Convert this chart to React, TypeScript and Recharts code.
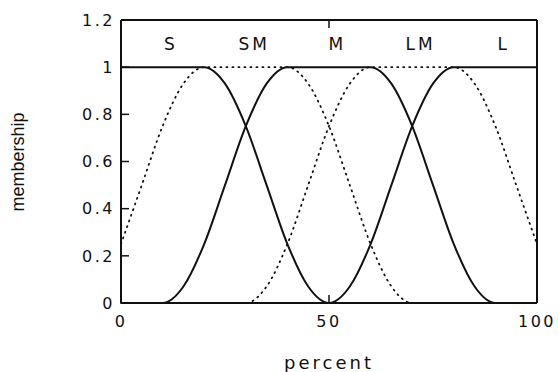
import { ComposedChart, Line, XAxis, YAxis, Scatter } from "recharts";

const percent = [0, 5, 10, 15, 20, 25, 30, 35, 40, 45, 50, 55, 60, 65, 70, 75, 80, 85, 90, 95, 100];
const small = [1, 1, 1, 1, 1, 0.93, 0.75, 0.5, 0.25, 0.07, 0, 0, 0, 0, 0, 0, 0, 0, 0, 0, 0];
const smallMedium = [0.25, 0.5, 0.75, 0.93, 1, 1, 1, 1, 1, 0.93, 0.75, 0.5, 0.25, 0.07, 0, 0, 0, 0, 0, 0, 0];
const medium = [0, 0, 0, 0.07, 0.25, 0.5, 0.75, 0.93, 1, 1, 1, 1, 1, 0.93, 0.75, 0.5, 0.25, 0.07, 0, 0, 0];
const largeMedium = [0, 0, 0, 0, 0, 0, 0, 0.07, 0.25, 0.5, 0.75, 0.93, 1, 1, 1, 1, 1, 0.93, 0.75, 0.5, 0.25];
const large = [0, 0, 0, 0, 0, 0, 0, 0, 0, 0, 0, 0.07, 0.25, 0.5, 0.75, 0.93, 1, 1, 1, 1, 1];

const setNames = ["S", "SM", "M", "LM", "L"];
const setLabelX = [12, 32, 52, 72, 92];
const setLabelY = 1.1;

const xTicks = [0, 50, 100];
const yTicks = [0, 0.2, 0.4, 0.6, 0.8, 1, 1.2];

const data = percent.map((x, i) => ({
  x,
  S: small[i],
  SM: smallMedium[i],
  M: medium[i],
  LM: largeMedium[i],
  L: large[i],
}));

const labels = setNames.map((name, i) => ({ x: setLabelX[i], y: setLabelY, name }));

const plotter = { fontFamily: "DejaVu Sans", fontSize: 16, letterSpacing: 2.5, fill: "#111" };
const ink = "#111";
const frame = { stroke: ink, strokeWidth: 2 };
const tickMark = { stroke: ink, strokeWidth: 1.5 };

export default function App() {
  return (
    <div style={{ position: "absolute", left: 0, top: 0, width: 559, height: 372, background: "#fff" }}>
      <ComposedChart width={559} height={372} data={data} margin={{ top: 19, right: 21, bottom: 0, left: 0 }}>
        <XAxis
          dataKey="x"
          type="number"
          domain={[0, 100]}
          ticks={xTicks}
          height={69}
          tickSize={-8}
          tickMargin={21}
          tick={plotter}
          axisLine={frame}
          tickLine={tickMark}
          label={{ value: "percent", position: "bottom", offset: -16, ...plotter, fontSize: 18, letterSpacing: 3 }}
        />
        <XAxis
          xAxisId="top"
          orientation="top"
          dataKey="x"
          type="number"
          domain={[0, 100]}
          ticks={xTicks}
          height={1}
          tickSize={-8}
          tickFormatter={() => ""}
          axisLine={frame}
          tickLine={tickMark}
        />
        <YAxis
          type="number"
          domain={[0, 1.2]}
          ticks={yTicks}
          width={121}
          tickSize={-8}
          tickMargin={14}
          tick={plotter}
          axisLine={frame}
          tickLine={tickMark}
          label={{
            position: "insideLeft",
            content: () => (
              <text
                x={18}
                y={162}
                transform="rotate(-90 18 162)"
                textAnchor="middle"
                dominantBaseline="central"
                fontFamily="Liberation Sans"
                fontSize={18}
                fill="#111"
              >
                membership
              </text>
            ),
          }}
        />
        <YAxis
          yAxisId="right"
          orientation="right"
          type="number"
          domain={[0, 1.2]}
          ticks={yTicks}
          width={1}
          tickSize={-8}
          tickFormatter={() => ""}
          axisLine={frame}
          tickLine={tickMark}
        />
        <Line dataKey="SM" type="monotone" stroke={ink} strokeWidth={1.8} strokeDasharray="1 5" strokeLinecap="round" dot={false} isAnimationActive={false} />
        <Line dataKey="LM" type="monotone" stroke={ink} strokeWidth={1.8} strokeDasharray="1 5" strokeLinecap="round" dot={false} isAnimationActive={false} />
        <Line dataKey="S" type="monotone" stroke={ink} strokeWidth={2} dot={false} isAnimationActive={false} />
        <Line dataKey="M" type="monotone" stroke={ink} strokeWidth={2} dot={false} isAnimationActive={false} />
        <Line dataKey="L" type="monotone" stroke={ink} strokeWidth={2} dot={false} isAnimationActive={false} />
        <Scatter
          data={labels}
          dataKey="y"
          isAnimationActive={false}
          shape={(p: any) => (
            <text
              x={p.cx}
              y={p.cy}
              textAnchor="middle"
              dominantBaseline="central"
              fontFamily="DejaVu Sans"
              fontSize={17}
              letterSpacing={3}
              fill="#111"
            >
              {p.payload.name}
            </text>
          )}
        />
      </ComposedChart>
    </div>
  );
}
